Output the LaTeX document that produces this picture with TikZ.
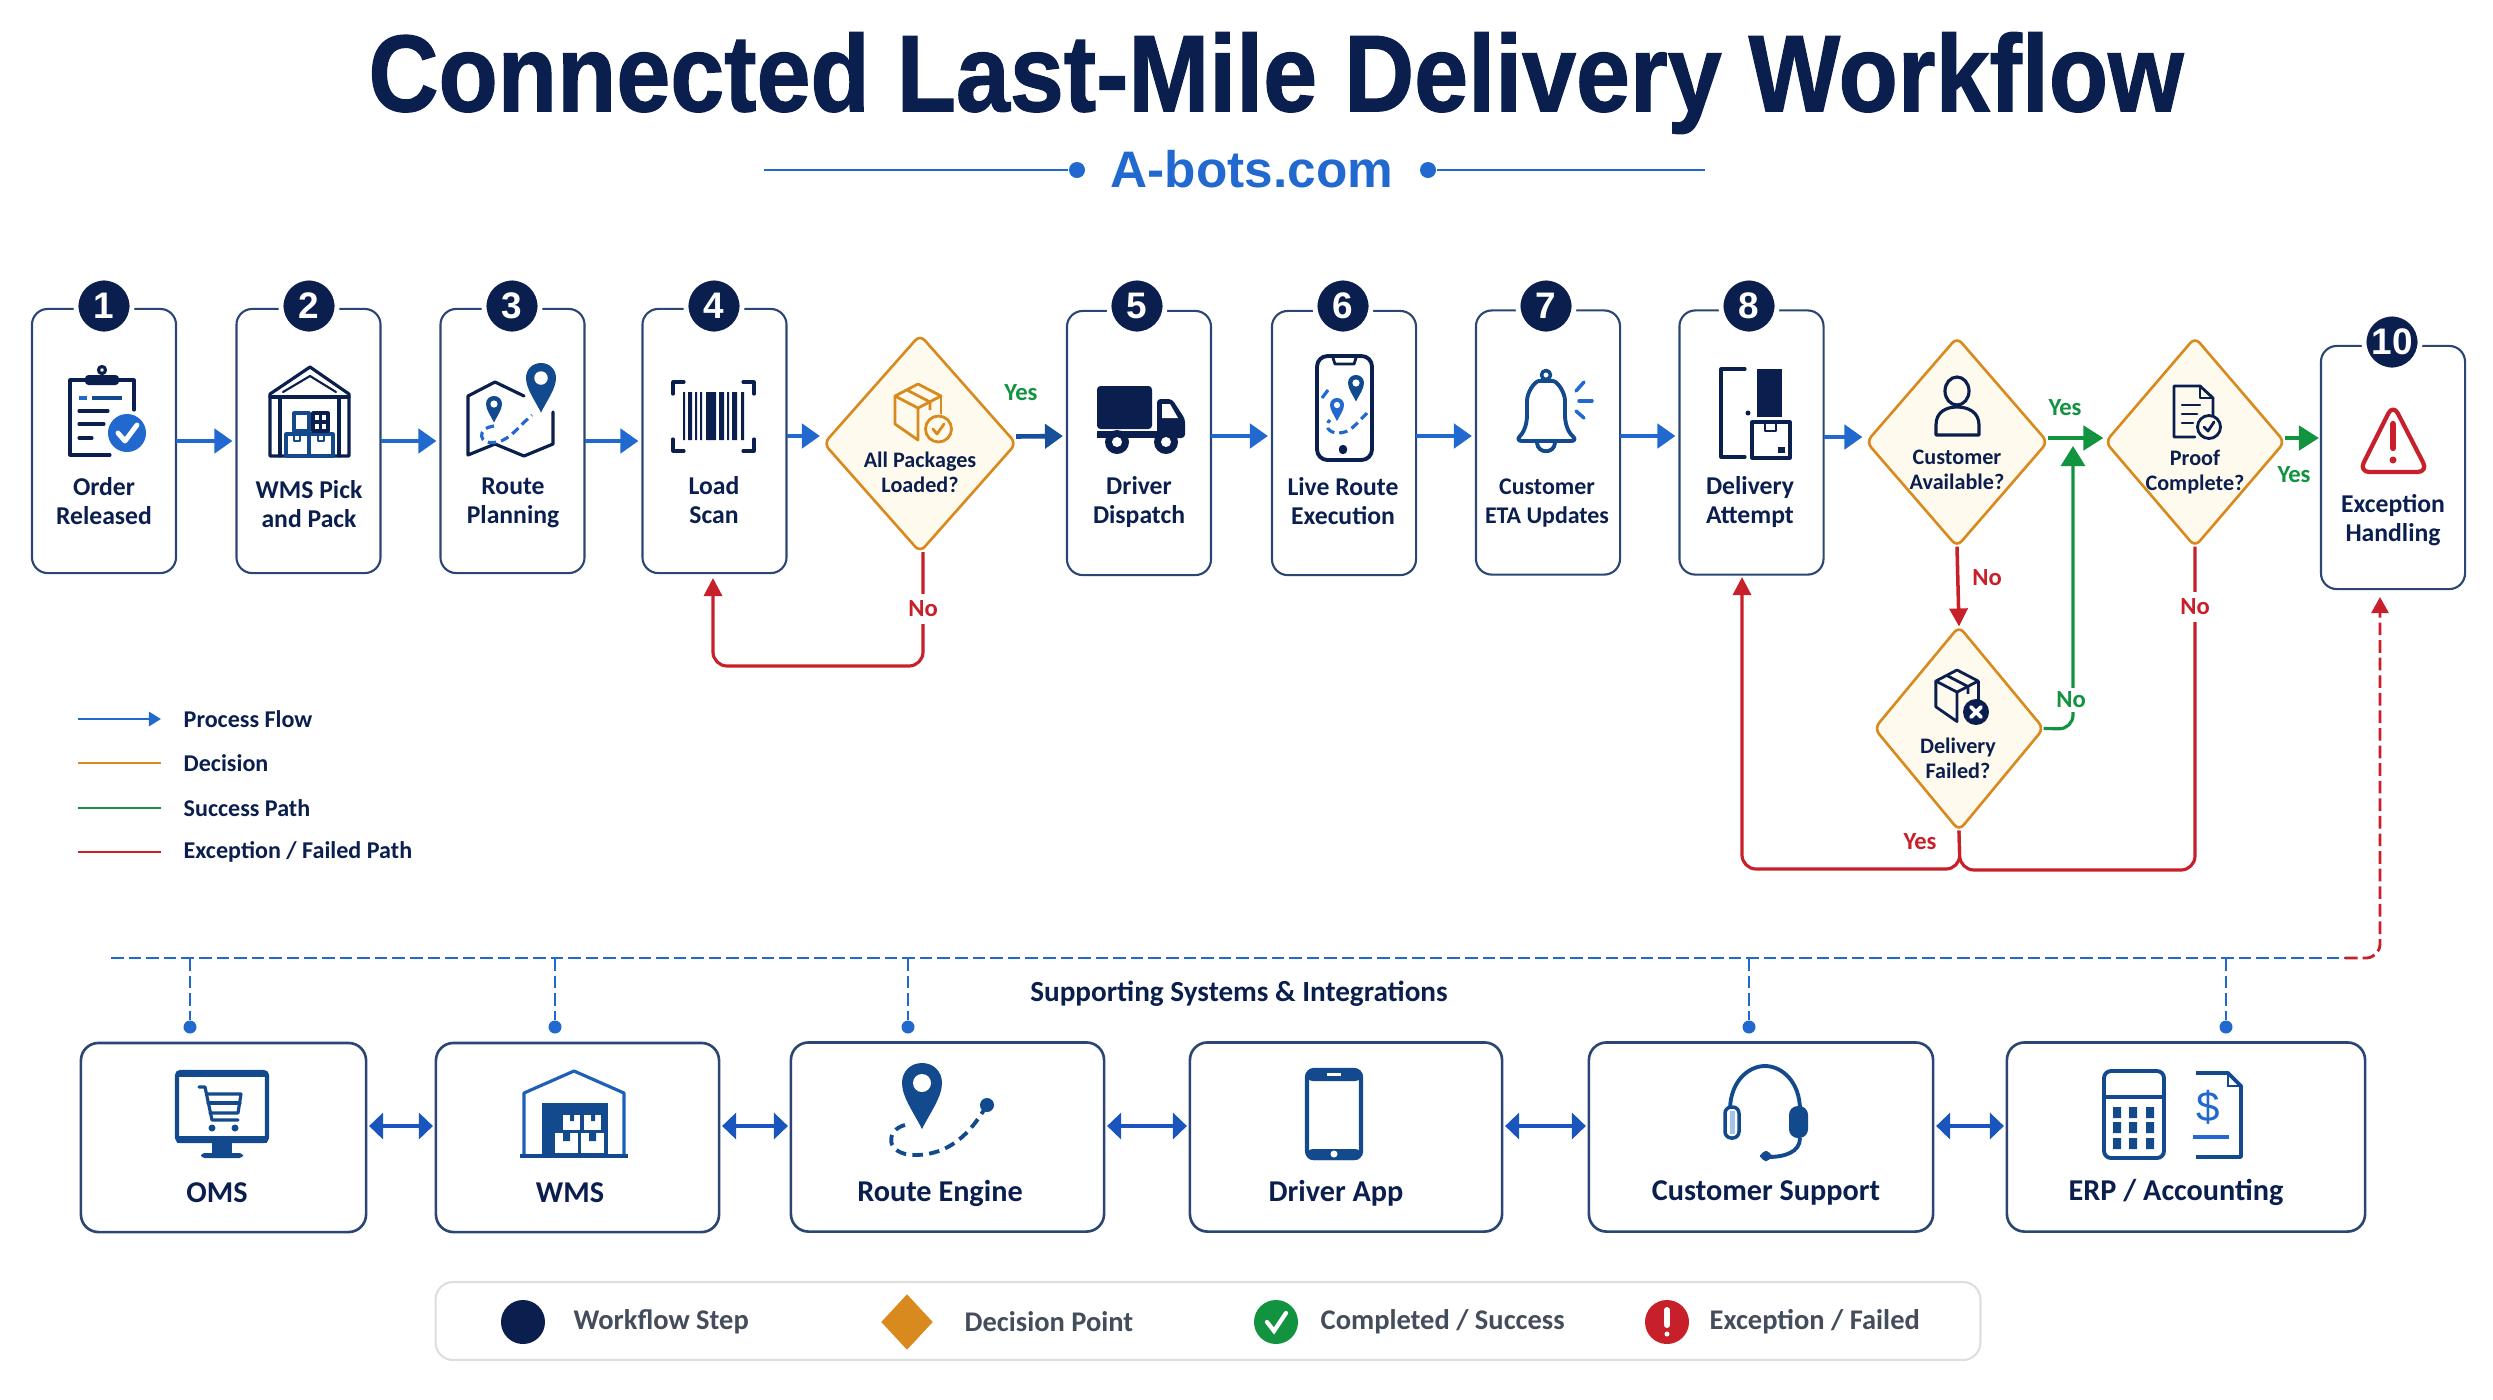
\documentclass[tikz,border=0pt]{standalone}
\usepackage{fontspec}
\setmainfont{Carlito}
\newfontfamily\headfont{Liberation Sans}
\newfontfamily\titlefont[BoldFeatures={FakeBold=1.2}]{Liberation Sans}
\usetikzlibrary{calc, shapes.geometric, arrows.meta}

\definecolor{stepnavy}{HTML}{0B1F4F}
\definecolor{edgenavy}{HTML}{2C4674}
\definecolor{iconblue}{HTML}{134A8E}
\definecolor{flowblue}{HTML}{2168CF}
\definecolor{linkblue}{HTML}{1A55BE}
\definecolor{gateorange}{HTML}{D98A1E}
\definecolor{gatecream}{HTML}{FFFAEE}
\definecolor{passgreen}{HTML}{12933F}
\definecolor{failred}{HTML}{C8202A}
\definecolor{softgrey}{HTML}{444D5C}

\tikzset{
  stepbox/.style={draw=edgenavy, line width=0.6pt, fill=white, rounded corners=4.5pt, inner sep=0pt, outer sep=0pt, minimum width=1.44cm, minimum height=2.64cm},
  stepbadge/.style={circle, fill=stepnavy, draw=white, line width=1.4pt, inner sep=0pt, minimum size=0.56cm, text=white, font=\headfont\fontsize{10.5}{11}\selectfont\bfseries},
  steptext/.style={align=center, text=stepnavy, inner sep=0pt, font=\fontsize{7.3}{8.3}\selectfont\bfseries},
  gatebox/.style={diamond, draw=gateorange, fill=gatecream, line width=0.75pt, rounded corners=2pt, inner sep=0pt, outer sep=0pt},
  gatetext/.style={align=center, text=stepnavy, inner sep=0pt, font=\fontsize{6.3}{7}\selectfont\bfseries},
  yestext/.style={text=passgreen, inner sep=1pt, fill=white, font=\fontsize{7}{8}\selectfont\bfseries},
  notext/.style={text=failred, inner sep=2pt, fill=white, font=\fontsize{7}{8}\selectfont\bfseries},
  flowline/.style={draw=flowblue, line width=1.3pt, -{Triangle[length=0.18cm,width=0.24cm]}, shorten >=0.04cm},
  passline/.style={draw=passgreen, line width=1.3pt, -{Triangle[length=0.2cm,width=0.24cm]}, shorten >=0.02cm},
  failline/.style={draw=failred, line width=0.9pt, rounded corners=4pt},
  failtip/.style={failline, -{Triangle[length=0.18cm,width=0.18cm]}},
  busline/.style={draw=flowblue, line width=0.8pt, dash pattern=on 3.6pt off 1.4pt},
  busdot/.style={circle, fill=flowblue, inner sep=0pt, minimum size=0.13cm},
  sysbox/.style={draw=edgenavy, line width=0.75pt, fill=white, rounded corners=5pt, inner sep=0pt, outer sep=0pt, minimum height=1.89cm},
  systext/.style={text=stepnavy, inner sep=0pt, font=\fontsize{8.6}{9}\selectfont\bfseries},
  linkline/.style={draw=linkblue, line width=1.3pt, {Triangle[length=0.14cm,width=0.26cm]}-{Triangle[length=0.14cm,width=0.26cm]}, shorten >=0.03cm, shorten <=0.03cm},
  keytext/.style={anchor=west, text=stepnavy, inner sep=0pt, font=\fontsize{6.85}{8}\selectfont\bfseries},
  bottomtext/.style={anchor=west, text=softgrey, inner sep=0pt, font=\fontsize{8.1}{9}\selectfont\bfseries},
  iconline/.style={draw=stepnavy, line width=0.9pt, line join=round, line cap=round},
  blueline/.style={draw=iconblue, line width=0.9pt, line join=round, line cap=round},
  gateline/.style={draw=gateorange, line width=0.8pt, line join=round, line cap=round}
}

% pin: centre x, centre y, head radius, colour
\newcommand{\mappin}[4]{%
  \begin{scope}[shift={(#1,#2)},scale=#3]
    \fill[#4] (0,2.3) .. controls (-.4,1.5) and (-1,.7) .. (-1,0) .. controls (-1,-.6) and (-.55,-1) .. (0,-1) .. controls (.55,-1) and (1,-.6) .. (1,0) .. controls (1,.7) and (.4,1.5) .. (0,2.3) -- cycle;
    \fill[white] (0,0) circle (.45);
  \end{scope}}

% parcel: top x, top y, size, colour
\newcommand{\parcelicon}[4]{%
  \begin{scope}[shift={(#1,#2)},scale=#3]
    \draw[draw=#4, line width=0.8pt, line join=round] (0,0) -- (23,12) -- (0,24) -- (-23,12) -- cycle;
    \draw[draw=#4, line width=0.8pt, line join=round] (-23,12) -- (-23,40) -- (0,56) -- (0,24);
    \draw[draw=#4, line width=0.8pt, line join=round] (23,12) -- (23,36);
    \draw[draw=#4, line width=0.8pt] (-11,6) -- (12,18) -- (12,26);
  \end{scope}}

\begin{document}
\begin{tikzpicture}[x=0.01cm,y=-0.01cm]

\useasboundingbox (0,0) rectangle (2493,1399);

% Title
\node[inner sep=0pt, text=stepnavy, font=\titlefont\fontsize{31}{34}\selectfont\bfseries] (title) at (1276,83) {\scalebox{0.89}[1]{Connected Last-Mile Delivery Workflow}};
\node[inner sep=0pt, text=flowblue, font=\headfont\fontsize{14.6}{16}\selectfont\bfseries] (brand) at (1252,169) {A-bots.com};
\node[circle, fill=flowblue, inner sep=0pt, minimum size=0.16cm] (branddotl) at (1077,170) {};
\node[circle, fill=flowblue, inner sep=0pt, minimum size=0.16cm] (branddotr) at (1428,170) {};
\coordinate (brandl) at (764,170);
\coordinate (brandr) at (1705,170);
\draw[flowblue, line width=0.8pt] (brandl) -- (branddotl);
\draw[flowblue, line width=0.8pt] (branddotr) -- (brandr);

% Steps
\node[stepbox] (step1) at (104,441) {};
\node[stepbox] (step2) at (308.5,441) {};
\node[stepbox] (step3) at (512.5,441) {};
\node[stepbox] (step4) at (714.5,441) {};
\node[stepbox] (step5) at (1139,443) {};
\node[stepbox] (step6) at (1344,443) {};
\node[stepbox] (step7) at (1548,442.5) {};
\node[stepbox] (step8) at (1751.5,442.5) {};
\node[stepbox, minimum height=2.43cm] (step10) at (2393,467.5) {};

% Decisions
\node[gatebox, minimum width=1.92cm, minimum height=2.17cm] (gateload) at (920,443.5) {};
\node[gatebox, minimum width=1.81cm, minimum height=2.09cm] (gatecust) at (1957,442) {};
\node[gatebox, minimum width=1.79cm, minimum height=2.09cm] (gateproof) at (2195,442) {};
\node[gatebox, minimum width=1.69cm, minimum height=2.04cm] (gatefail) at (1959,728.5) {};

% Process arrows
\draw[flowline] (step1) -- (step2);
\draw[flowline] (step2) -- (step3);
\draw[flowline] (step3) -- (step4);
\draw[flowline] (step4.east |- 0,436) -- (gateload.west |- 0,436);
\draw[flowline, draw=iconblue!80!flowblue] (gateload.east) ++(0,-7) -- (step5.west |- 0,436);
\draw[flowline] (step5.east |- 0,436) -- (step6.west |- 0,436);
\draw[flowline] (step6.east |- 0,436) -- (step7.west |- 0,436);
\draw[flowline] (step7.east |- 0,436) -- (step8.west |- 0,436);
\draw[flowline] (step8.east |- 0,437) -- (gatecust.west |- 0,437);
\draw[passline] (gatecust.east |- 0,438) -- (gateproof.west |- 0,438);
\draw[passline] (gateproof.east |- 0,438) -- (step10.west |- 0,438);

% Red and green returns
\coordinate (loadturn) at (923,666);
\coordinate (loadtip) at (713,578);
\draw[failtip] (gateload.south) ++(3,0) -- (loadturn) -- (713,666) -- (loadtip);
\draw[failtip, line width=1pt] (gatecust.south) -- (gatefail.north);
\coordinate (retry) at (2073,729);
\coordinate (retrytip) at (2073,444);
\draw[passline, line width=0.9pt, rounded corners=4pt] (gatefail.east) -- (retry) -- (retrytip);
\coordinate (attempttip) at (1742,577);
\coordinate (proofturn) at (2195,870);
\draw[failtip] (gatefail.south) -- (1960,869) -- (1742,869) -- (attempttip);
\draw[failline] (gateproof.south) -- (proofturn) -- (1960,870) -- (gatefail.south);

% Labels on the arrows
\node[yestext] (yesload) at (1021,393) {Yes};
\node[notext] (noload) at (923,609) {No};
\node[yestext] (yescust) at (2065,408) {Yes};
\node[yestext] (yesproof) at (2294,475) {Yes};
\node[notext, fill=none] (nocust) at (1987,578) {No};
\node[yestext] (nofail) at (2071,700) {No};
\node[notext] (noproof) at (2195,607) {No};
\node[notext, fill=none] (yesfail) at (1920,842) {Yes};

% Flow key
\coordinate (keya) at (78,719);
\coordinate (keyb) at (78,763);
\coordinate (keyc) at (78,808);
\coordinate (keyd) at (78,852);
\coordinate (keyae) at (161,719);
\coordinate (keybe) at (161,763);
\coordinate (keyce) at (161,808);
\coordinate (keyde) at (161,852);
\draw[flowblue, line width=0.8pt, -{Triangle[length=0.12cm,width=0.14cm]}] (keya) -- (keyae);
\draw[gateorange, line width=0.8pt] (keyb) -- (keybe);
\draw[passgreen, line width=0.8pt] (keyc) -- (keyce);
\draw[failred, line width=0.8pt] (keyd) -- (keyde);
\node[keytext] (keyflow) at (183,719) {Process Flow};
\node[keytext] (keygate) at (183,763) {Decision};
\node[keytext] (keypass) at (183,808) {Success Path};
\node[keytext] (keyfail) at (183,852) {Exception / Failed Path};

% Systems
\node[sysbox, minimum width=2.85cm] (oms) at (223.5,1137.5) {};
\node[sysbox, minimum width=2.83cm] (wms) at (577.5,1137.5) {};
\node[sysbox, minimum width=3.13cm] (route) at (947.5,1137) {};
\node[sysbox, minimum width=3.12cm] (driver) at (1346,1137) {};
\node[sysbox, minimum width=3.44cm] (support) at (1761,1137) {};
\node[sysbox, minimum width=3.58cm] (erp) at (2186,1137) {};
\draw[linkline] (oms.east |- 0,1126) -- (wms.west |- 0,1126);
\draw[linkline] (wms.east |- 0,1126) -- (route.west |- 0,1126);
\draw[linkline] (route.east |- 0,1126) -- (driver.west |- 0,1126);
\draw[linkline] (driver.east |- 0,1126) -- (support.west |- 0,1126);
\draw[linkline] (support.east |- 0,1126) -- (erp.west |- 0,1126);
\node[systext] (omstext) at (217,1193) {OMS};
\node[systext] (wmstext) at (570,1193) {WMS};
\node[systext] (routetext) at (940,1193) {Route Engine};
\node[systext] (drivertext) at (1336,1193) {Driver App};
\node[systext] (supporttext) at (1766,1193) {Customer Support};
\node[systext] (erptext) at (2176,1192) {ERP / Accounting};

% Dashed bus
\coordinate (busl) at (111,958);
\coordinate (busr) at (2345,958);
\coordinate (busoms) at (190,958);
\coordinate (buswms) at (555,958);
\coordinate (busroute) at (908,958);
\coordinate (bussupport) at (1749,958);
\coordinate (buserp) at (2226,958);
\coordinate (exctip) at (2380,597);
\node[busdot] (dotoms) at (190,1027) {};
\node[busdot] (dotwms) at (555,1027) {};
\node[busdot] (dotroute) at (908,1027) {};
\node[busdot] (dotsupport) at (1749,1027) {};
\node[busdot] (doterp) at (2226,1027) {};
\draw[busline] (busl) -- (busr);
\draw[busline] (busoms) -- (dotoms);
\draw[busline] (buswms) -- (dotwms);
\draw[busline] (busroute) -- (dotroute);
\draw[busline] (bussupport) -- (dotsupport);
\draw[busline] (buserp) -- (doterp);
\draw[failred, line width=0.8pt, dash pattern=on 3.6pt off 1.4pt, rounded corners=4pt, -{Triangle[length=0.16cm,width=0.17cm]}] (busr) -- (2380,958) -- (exctip);
\node[text=stepnavy, inner sep=0pt, font=\fontsize{8.3}{9}\selectfont\bfseries] (systitle) at (1239,994) {Supporting Systems \& Integrations};

% Bottom key
\node[draw=black!13, line width=0.6pt, fill=white, rounded corners=5pt, minimum width=15.44cm, minimum height=0.78cm, inner sep=0pt] (bottomkey) at (1208,1321) {};
\node[circle, fill=stepnavy, inner sep=0pt, minimum size=0.44cm] (keystep) at (523,1322) {};
\node[diamond, fill=gateorange, inner sep=0pt, minimum width=0.52cm, minimum height=0.56cm] (keypoint) at (907,1322) {};
\node[circle, fill=passgreen, inner sep=0pt, minimum size=0.44cm] (keydone) at (1276,1322) {};
\node[circle, fill=failred, inner sep=0pt, minimum size=0.44cm] (keyexc) at (1667,1322) {};
\draw[white, line width=1.2pt, line cap=round] (1267,1322) -- (1274,1331) -- (1286,1313);
\draw[white, line width=1.7pt, line cap=round] (1667,1310) -- (1667,1325);
\fill[white] (1667,1334) circle (.025cm);
\node[bottomtext] (keysteptext) at (573,1322) {Workflow Step};
\node[bottomtext] (keypointtext) at (964,1322) {Decision Point};
\node[bottomtext] (keydonetext) at (1320,1322) {Completed / Success};
\node[bottomtext] (keyexctext) at (1709,1322) {Exception / Failed};

% Icon 1: clipboard
\draw[iconline] (134,410) -- (134,380) -- (70,380) -- (70,455) -- (110,455);
\fill[stepnavy, rounded corners=1pt] (85,375) rectangle (119,385);
\draw[iconline] (102,370) circle (.035cm);
\draw[flowblue, line width=0.9pt] (79,398) -- (87,398);
\draw[iconblue, line width=0.9pt] (92,398) -- (122,398);
\draw[iconline] (79,411) -- (108,411);
\draw[iconline] (79,424) -- (104,424);
\draw[iconline] (79,438) -- (92,438);
\fill[flowblue] (127,433) circle (.19cm);
\draw[white, line width=1.4pt, line cap=round, line join=round] (118,433) -- (125,441) -- (137,425);

% Icon 2: warehouse
\draw[iconline] (270,456) -- (270,394) -- (310,367) -- (349,394) -- (349,456) -- cycle;
\draw[iconline] (270,397) -- (349,397);
\draw[iconline, line width=0.6pt] (283,392) -- (310,376) -- (336,392);
\draw[iconline] (280,397) -- (280,456);
\draw[iconline] (339,397) -- (339,456);
\draw[blueline] (286,434) rectangle (309,456);
\draw[blueline] (309,434) rectangle (333,456);
\draw[blueline] (294,413) rectangle (309,431);
\draw[iconline] (313,413) rectangle (328,431);
\draw[iconline] (320.5,413) -- (320.5,431) (313,422) -- (328,422);
\draw[blueline, line width=0.7pt] (294,434) -- (294,441) -- (300,441) -- (300,434);
\draw[blueline, line width=0.7pt] (318,434) -- (318,441) -- (324,441) -- (324,434);

% Icon 3: map
\draw[iconline] (524,396) -- (495,382) -- (468,396) -- (468,455) -- (495,444) -- (524,456) -- (553,444) -- (553,412);
\draw[flowblue, line width=0.9pt, dash pattern=on 2.4pt off 1.4pt] (494,426) .. controls (476,428) and (478,446) .. (497,442) .. controls (510,440) and (520,425) .. (532,415);
\mappin{494}{404}{8}{iconblue}
\mappin{541}{378}{15}{iconblue}

% Icon 4: barcode
\draw[iconline] (684,382) -- (673,382) -- (673,394);
\draw[iconline] (743,382) -- (754,382) -- (754,394);
\draw[iconline] (684,451) -- (673,451) -- (673,439);
\draw[iconline] (743,451) -- (754,451) -- (754,439);
\fill[stepnavy] (683,392) rectangle (685,440) (688,392) rectangle (692,440) (695,392) rectangle (697,440) (700,392) rectangle (702,440) (706,392) rectangle (716,440) (719,392) rectangle (724,440) (727,392) rectangle (729,440) (732,392) rectangle (737,440) (741,392) rectangle (744,440);

% Decision icon: packages
\parcelicon{918}{384}{1}{gateorange}
\fill[gatecream] (938.5,429) circle (.15cm);
\draw[gateline] (938.5,429) circle (.13cm);
\draw[gateline] (933,429) -- (937,434) -- (944,424);

% Icon 5: truck
\fill[stepnavy, rounded corners=1pt] (1097,386) rectangle (1152,429);
\fill[stepnavy, rounded corners=1pt] (1157,399) -- (1172,399) -- (1185,419) -- (1185,438) -- (1157,438) -- cycle;
\fill[white] (1162,404) -- (1170,404) -- (1178,418) -- (1162,418) -- cycle;
\fill[stepnavy] (1097,431) rectangle (1160,438);
\fill[stepnavy] (1117,442) circle (.12cm);
\fill[white] (1117,442) circle (.05cm);
\fill[stepnavy] (1166,442) circle (.12cm);
\fill[white] (1166,442) circle (.05cm);

% Icon 6: phone with route
\draw[iconline, line width=1.1pt, rounded corners=3pt] (1317,356) rectangle (1372,460);
\draw[iconline, line width=0.8pt] (1333,358) -- (1335,364) -- (1354,364) -- (1356,358);
\fill[stepnavy, rounded corners=1pt] (1339,445) rectangle (1347,454);
\draw[flowblue, line width=0.9pt, dash pattern=on 2.4pt off 1.4pt] (1367,413) .. controls (1355,425) and (1350,433) .. (1338,433) .. controls (1328,433) and (1324,425) .. (1330,420);
\draw[flowblue, line width=0.9pt] (1322,398) -- (1328,390);
\mappin{1356}{383}{8}{iconblue}
\mappin{1337}{405}{7}{flowblue}

% Icon 7: bell
\draw[blueline, line width=1pt] (1546,375) circle (.045cm);
\draw[blueline, line width=1.1pt, rounded corners=2pt] (1515,441) .. controls (1525,431) and (1527,422) .. (1527,408) .. controls (1527,392) and (1535,381) .. (1546,381) .. controls (1557,381) and (1565,392) .. (1565,408) .. controls (1565,422) and (1567,431) .. (1578,441) -- cycle;
\draw[blueline, line width=1.1pt] (1537,443) .. controls (1538,454) and (1554,454) .. (1555,443);
\draw[flowblue, line width=1pt, line cap=round] (1576,391) -- (1584,382);
\draw[flowblue, line width=1pt, line cap=round] (1579,401) -- (1592,401);
\draw[flowblue, line width=1pt, line cap=round] (1576,411) -- (1584,418);

% Icon 8: door and parcel
\draw[iconline] (1745,369) -- (1721,369) -- (1721,457) -- (1745,457);
\fill[stepnavy] (1757,369) rectangle (1782,417);
\fill[stepnavy] (1748,413) circle (.025cm);
\draw[iconline] (1752,422) rectangle (1790,458);
\draw[iconline, line width=0.7pt] (1765,422) -- (1765,431) -- (1776,431) -- (1776,422);
\fill[stepnavy] (1778,447) rectangle (1785,453);

% Decision icon: person
\draw[iconline] (1957,391) ellipse (.12cm and .14cm);
\draw[iconline] (1936,435) -- (1936,425) .. controls (1936,412) and (1946,407) .. (1957,407) .. controls (1968,407) and (1979,412) .. (1979,425) -- (1979,435) -- cycle;

% Decision icon: proof
\draw[iconline, line width=0.8pt] (2195,437) -- (2174,437) -- (2174,386) -- (2200,386) -- (2213,398) -- (2213,415);
\draw[iconline, line width=0.8pt] (2200,386) -- (2200,398) -- (2213,398);
\draw[iconline, line width=0.7pt] (2182,405) -- (2200,405) (2182,414) -- (2197,414) (2182,423) -- (2193,423);
\draw[iconline, line width=0.8pt, fill=gatecream] (2209,427) circle (.115cm);
\draw[iconline, line width=0.8pt] (2204,427) -- (2208,431) -- (2214,422);

% Decision icon: failed parcel
\parcelicon{1957}{670}{0.92}{stepnavy}
\fill[stepnavy] (1976,712) circle (.13cm);
\draw[white, line width=1.1pt, line cap=round] (1971,707) -- (1981,717) (1981,707) -- (1971,717);

% Icon 10: warning
\draw[failred, line width=1.2pt, line join=round, rounded corners=3pt] (2393,404) -- (2428,472) -- (2359,472) -- cycle;
\draw[failred, line width=1.8pt, line cap=round] (2393,424) -- (2393,448);
\fill[failred] (2393,460) circle (.035cm);

% System icon: monitor
\draw[iconblue, line width=1.2pt, rounded corners=1pt] (177,1072) rectangle (267,1141);
\fill[iconblue] (177,1071) rectangle (267,1077);
\fill[iconblue] (177,1136) rectangle (267,1143);
\fill[iconblue] (212,1143) rectangle (232,1154);
\fill[iconblue, rounded corners=1pt] (201,1153) rectangle (243,1158);
\draw[blueline] (199,1087) -- (205,1087) -- (212,1120) -- (238,1120);
\draw[blueline] (207,1094) -- (241,1094) -- (238,1113) -- (210,1113);
\draw[blueline] (208,1103) -- (240,1103);
\fill[iconblue] (212,1128) circle (.035cm);
\fill[iconblue] (235,1128) circle (.035cm);

% System icon: warehouse
\draw[flowblue!70!iconblue, line width=0.9pt, line join=round] (524,1155) -- (524,1093) -- (574,1071) -- (624,1093) -- (624,1155);
\fill[iconblue] (520,1154) rectangle (628,1158);
\fill[iconblue] (542,1103) rectangle (608,1155);
\fill[white] (563,1115) rectangle (580,1130);
\fill[white] (584,1115) rectangle (601,1130);
\fill[white] (555,1133) rectangle (578,1153);
\fill[white] (581,1133) rectangle (604,1153);
\fill[iconblue] (570,1115) rectangle (574,1121) (591,1115) rectangle (595,1121);
\fill[iconblue] (563,1133) rectangle (570,1141) (589,1133) rectangle (596,1141);

% System icon: route
\draw[iconblue, line width=1.1pt, dash pattern=on 3pt off 1.8pt] (987,1105) .. controls (975,1125) and (955,1155) .. (915,1155) .. controls (885,1155) and (885,1130) .. (905,1125);
\mappin{922}{1083}{20}{iconblue}
\fill[iconblue] (987,1105) circle (.07cm);

% System icon: phone
\draw[iconblue, line width=1.2pt, rounded corners=2pt] (1307,1070) rectangle (1361,1158);
\fill[iconblue, rounded corners=2pt] (1306,1069) rectangle (1362,1081);
\fill[iconblue, rounded corners=2pt] (1306,1149) rectangle (1362,1160);
\fill[white] (1327,1073) rectangle (1341,1076);
\fill[white] (1334,1154) circle (.035cm);

% System icon: headset
\draw[iconblue, line width=1.1pt] (1730,1110) .. controls (1730,1082) and (1748,1066) .. (1765,1066) .. controls (1782,1066) and (1800,1082) .. (1800,1110);
\draw[iconblue, line width=1pt, rounded corners=1.8pt, fill=white] (1725,1107) rectangle (1739,1138);
\fill[flowblue!40] (1730,1111) rectangle (1735,1134);
\fill[iconblue, rounded corners=2.5pt] (1789,1106) rectangle (1808,1138);
\draw[iconblue, line width=1.1pt] (1800,1138) .. controls (1800,1152) and (1785,1157) .. (1768,1157);
\fill[iconblue, rounded corners=2pt] (1760,1151) rectangle (1772,1161);

% System icon: ERP
\draw[iconblue, line width=1.1pt, rounded corners=2pt] (2104,1071) rectangle (2164,1158);
\draw[iconblue, line width=1.1pt] (2104,1097) -- (2164,1097);
\fill[iconblue] (2113,1107) rectangle (2121,1118) (2129,1107) rectangle (2137,1118) (2146,1107) rectangle (2154,1118);
\fill[iconblue] (2113,1122) rectangle (2121,1133) (2129,1122) rectangle (2137,1133) (2146,1122) rectangle (2154,1133);
\fill[iconblue] (2113,1138) rectangle (2121,1149) (2129,1138) rectangle (2137,1149) (2146,1138) rectangle (2154,1149);
\draw[iconblue, line width=1.1pt, line join=round] (2196,1073) -- (2228,1073) -- (2241,1086) -- (2241,1157) -- (2196,1157);
\draw[iconblue, line width=0.8pt] (2228,1073) -- (2228,1086) -- (2241,1086);
\node[inner sep=0pt, text=flowblue, font=\headfont\fontsize{12}{13}\selectfont] (dollar) at (2208,1107) {\$};
\draw[flowblue, line width=0.9pt] (2193,1137) -- (2229,1137);

% Step texts
\node[steptext] (text1) at (104,501) {Order\\Released};
\node[steptext] (text2) at (309,504) {WMS Pick\\and Pack};
\node[steptext] (text3) at (513,503) {Route\\Planning};
\node[steptext] (text4) at (714,500) {Load\\Scan};
\node[steptext] (text5) at (1139,502) {Driver\\Dispatch};
\node[steptext] (text6) at (1343,501) {Live Route\\Execution};
\node[steptext, font=\fontsize{6.8}{8.3}\selectfont\bfseries] (text7) at (1547,503) {Customer\\ETA Updates};
\node[steptext] (text8) at (1750,502) {Delivery\\Attempt};
\node[steptext] (text10) at (2393,520) {Exception\\Handling};
\node[gatetext] (gatetext1) at (920,472) {All Packages\\Loaded?};
\node[gatetext] (gatetext2) at (1957,470) {Customer\\Available?};
\node[gatetext] (gatetext3) at (2195,472) {Proof\\Complete?};
\node[gatetext] (gatetext4) at (1958,758) {Delivery\\Failed?};

% Badges
\node[stepbadge] (badge1) at (104,306) {1};
\node[stepbadge] (badge2) at (309,306) {2};
\node[stepbadge] (badge3) at (512,306) {3};
\node[stepbadge] (badge4) at (714,306) {4};
\node[stepbadge] (badge5) at (1137,306) {5};
\node[stepbadge] (badge6) at (1343,306) {6};
\node[stepbadge] (badge7) at (1546,306) {7};
\node[stepbadge] (badge8) at (1749,306) {8};
\node[stepbadge] (badge10) at (2392,342) {10};

\end{tikzpicture}
\end{document}
